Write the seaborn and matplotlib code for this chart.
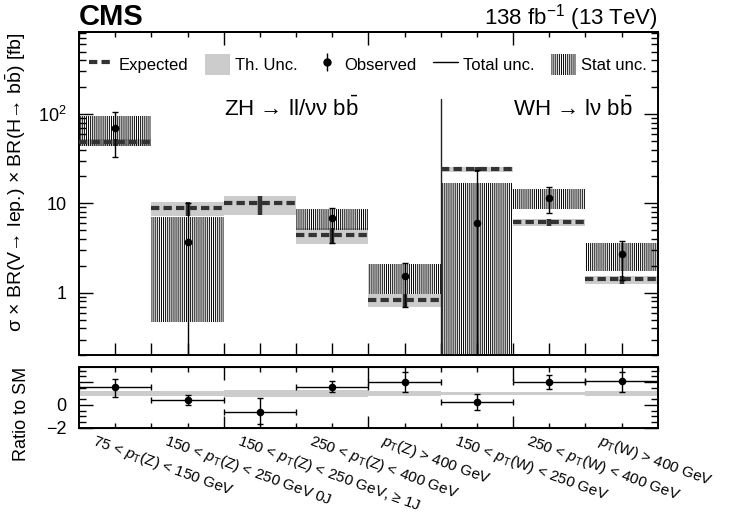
import numpy as np
import matplotlib
matplotlib.use('Agg')
import matplotlib.pyplot as plt
import matplotlib.transforms as mtransforms
from matplotlib.lines import Line2D
from matplotlib.patches import Patch
from matplotlib.legend_handler import HandlerTuple
from matplotlib.ticker import MultipleLocator, LogLocator, FixedLocator, NullFormatter
import seaborn as sns

# bins (categories)
bin_labels = [
    r'75 < $p_{\rm T}$(Z) < 150 GeV',
    r'150 < $p_{\rm T}$(Z) < 250 GeV 0J',
    r'150 < $p_{\rm T}$(Z) < 250 GeV, ≥ 1J',
    r'250 < $p_{\rm T}$(Z) < 400 GeV',
    r'$p_{\rm T}$(Z) > 400 GeV',
    r'150 < $p_{\rm T}$(W) < 250 GeV',
    r'250 < $p_{\rm T}$(W) < 400 GeV',
    r'$p_{\rm T}$(W) > 400 GeV',
]

# expected cross sections [fb] and theory band
expected = [48.7, 8.9, 10.0, 4.43, 0.83, 24.1, 6.14, 1.41]
th_lo = [44.0, 7.3, 7.5, 3.51, 0.70, 22.5, 5.6, 1.27]
th_hi = [53.0, 10.4, 12.2, 5.34, 0.97, 25.7, 6.7, 1.54]

# observed cross sections [fb] (bin 3 negative -> not shown on log scale)
observed = [69.0, 3.67, np.nan, 6.81, 1.54, 5.99, 11.6, 2.71]
tot_lo = [33.0, 0.05, np.nan, 3.57, 0.70, 0.05, 7.9, 1.39]
tot_hi = [106.0, 10.2, np.nan, 8.8, 2.17, 23.7, 15.1, 3.79]
stat_lo = [44.0, 0.47, np.nan, 5.04, 0.96, 0.05, 8.6, 1.76]
stat_hi = [96.0, 7.1, np.nan, 8.6, 2.08, 17.1, 14.4, 3.57]

# ratio to SM
ratio = [1.53, 0.44, -0.59, 1.61, 2.0, 0.29, 2.05, 2.11]
ratio_lo = [0.73, 0.0, -1.67, 1.12, 1.17, -0.44, 1.41, 1.17]
ratio_hi = [2.29, 0.88, 0.59, 2.14, 2.88, 0.94, 2.64, 2.93]
ratio_th = [0.25, 0.25, 0.3, 0.3, 0.25, 0.15, 0.1, 0.22]

sns.set_style('ticks')
plt.rcParams['font.family'] = ['Liberation Sans', 'DejaVu Sans']
plt.rcParams['mathtext.fontset'] = 'custom'
plt.rcParams['mathtext.rm'] = 'Liberation Sans'
plt.rcParams['mathtext.it'] = 'Liberation Sans:italic'
plt.rcParams['mathtext.bf'] = 'Liberation Sans:bold'
plt.rcParams['hatch.linewidth'] = 0.7
plt.rcParams['hatch.color'] = 'black'
for key in ['text.color', 'axes.labelcolor', 'xtick.color', 'ytick.color', 'axes.edgecolor']:
    plt.rcParams[key] = 'black'

n = len(bin_labels)
centers = np.arange(n) + 0.5
expected = np.array(expected)
observed = np.array(observed)
ok = ~np.isnan(observed)
th_lo, th_hi = np.array(th_lo), np.array(th_hi)
tot_lo, tot_hi = np.array(tot_lo), np.array(tot_hi)
stat_lo, stat_hi = np.array(stat_lo), np.array(stat_hi)
ratio, ratio_lo, ratio_hi, ratio_th = map(np.array, (ratio, ratio_lo, ratio_hi, ratio_th))

W, H = 729, 515
fig = plt.figure(figsize=(W / 100, H / 100), dpi=100)
ax = fig.add_axes([79 / W, 1 - 355.3 / H, 578.7 / W, 323 / H])
rax = fig.add_axes([79 / W, 1 - 427.7 / H, 578.7 / W, 60.4 / H])

dark = '#333333'
grey = '#cccccc'

# --- main panel ---
ax.bar(centers, th_hi - th_lo, bottom=th_lo, width=1.0, color=grey, linewidth=0, zorder=1)
ax.bar(centers[ok], (stat_hi - stat_lo)[ok], bottom=stat_lo[ok], width=1.0,
       facecolor='none', edgecolor='black', linewidth=0, hatch='|' * 8, zorder=2)
ax.vlines(centers, th_lo, th_hi, colors=dark, linewidth=3.2, zorder=3)
ax.hlines(expected, centers - 0.5, centers + 0.5, colors=dark, linewidth=3,
          linestyles=(0, (2, 1)), zorder=3)
ax.errorbar(centers[ok], observed[ok],
            yerr=[(observed - tot_lo)[ok], (tot_hi - observed)[ok]],
            fmt='none', ecolor='black', elinewidth=1, capsize=2.5, capthick=1, zorder=4)
sns.scatterplot(x=centers[ok], y=observed[ok], color='black', s=30, edgecolor='black',
                linewidth=0, ax=ax, zorder=5)
ax.plot([5, 5], [0.1, 147], color='#222222', linewidth=1, zorder=2)

ax.set_yscale('log')
ax.set_xlim(0, n)
ax.set_ylim(0.2, 820)
ax.set_xticks(np.arange(0.5, n, 0.5))
ax.set_xticklabels([])
ax.tick_params(axis='x', which='major', direction='in', length=8.6, width=1, top=False)
ax.yaxis.set_major_locator(FixedLocator([1, 10, 100]))
ax.set_yticklabels(['1', '10', r'10$^{2}$'])
ax.yaxis.set_minor_locator(LogLocator(base=10, subs=np.arange(2, 10)))
ax.yaxis.set_minor_formatter(NullFormatter())
ax.tick_params(axis='y', which='major', direction='in', length=10, width=1,
               left=True, right=True, labelsize=13, pad=9)
ax.tick_params(axis='y', which='minor', direction='in', length=5, width=1,
               left=True, right=True)
top = ax.secondary_xaxis('top')
top.set_xticks([2, 4, 6])
top.set_xticklabels([])
top.xaxis.set_minor_locator(MultipleLocator(0.5))
top.tick_params(which='major', direction='in', length=9, width=1)
top.tick_params(which='minor', direction='in', length=3.6, width=1)
for s in ax.spines.values():
    s.set_linewidth(1.4)
top.spines['top'].set_linewidth(1.4)

ax.set_ylabel('σ × BR(V→ lep.) × BR(H→ b$\\bar{\\rm b}$) [fb]', loc='top', fontsize=14)
ax.yaxis.set_label_coords(-0.088, 1.0)

ax.text(2.0, 114, 'ZH → ll/νν b$\\bar{\\rm b}$', fontsize=16, ha='left', va='center')
ax.text(6.0, 114, 'WH → lν b$\\bar{\\rm b}$', fontsize=16, ha='left', va='center')

handles = [
    Line2D([], [], color=dark, linewidth=3, linestyle=(0, (2, 1))),
    Patch(facecolor=grey, edgecolor='none'),
    (Line2D([], [], marker='|', markersize=13, color='black', linestyle='none', markeredgewidth=1),
     Line2D([], [], marker='o', markersize=5, color='black', linestyle='none')),
    Line2D([], [], color='black', linewidth=1),
    Patch(facecolor='none', edgecolor='black', linewidth=0, hatch='|' * 8),
]
labels = ['Expected', 'Th. Unc.', 'Observed', 'Total unc.', 'Stat unc.']
ax.legend(handles, labels, ncol=5, loc='center left', bbox_to_anchor=(0.005, 0.9),
          frameon=False, fontsize=12, handlelength=1.5, handleheight=1.5,
          handletextpad=0.3, columnspacing=1.0, borderaxespad=0,
          handler_map={tuple: HandlerTuple(ndivide=1)})

fig.text(79 / W, 1 - 17 / H, 'CMS', fontsize=21, fontweight='bold', ha='left', va='center')
fig.text(658 / W, 1 - 18 / H, r'138 fb$^{-1}$ (13 TeV)', fontsize=16, ha='right', va='center')

# --- ratio panel ---
rax.bar(centers, 2 * ratio_th, bottom=1 - ratio_th, width=1.0, color=grey, linewidth=0, zorder=1)
rax.errorbar(centers, ratio, xerr=0.5, yerr=[ratio - ratio_lo, ratio_hi - ratio],
             fmt='none', ecolor='black', elinewidth=1, capsize=2, capthick=1, zorder=3)
sns.scatterplot(x=centers, y=ratio, color='black', s=30, edgecolor='black', linewidth=0,
                ax=rax, zorder=4)
rax.set_xlim(0, n)
rax.set_ylim(-2, 3.3)
rax.set_yticks([-2, 0, 2])
rax.set_yticklabels(['\u22122', '0', ''])
rax.yaxis.set_minor_locator(MultipleLocator(0.5))
rax.tick_params(axis='y', which='major', direction='in', length=10, width=1,
                left=True, right=True, labelsize=13, pad=9)
rax.tick_params(axis='y', which='minor', direction='in', length=5, width=1,
                left=True, right=True)
rax.set_xticks(centers)
rax.set_xticklabels(bin_labels, rotation=-20, ha='left', va='top',
                    rotation_mode='anchor', fontsize=11)
rax.xaxis.set_minor_locator(FixedLocator([1, 3, 5, 7]))
rax.tick_params(axis='x', which='both', direction='in', length=3.6, width=1,
                top=False, pad=3)
shift = mtransforms.ScaledTranslation(-0.19, 0, fig.dpi_scale_trans)
for lab in rax.get_xticklabels():
    lab.set_transform(lab.get_transform() + shift)
rtop = rax.secondary_xaxis('top')
rtop.set_xticks([2, 4, 6])
rtop.set_xticklabels([])
rtop.xaxis.set_minor_locator(MultipleLocator(0.5))
rtop.tick_params(which='major', direction='in', length=9, width=1)
rtop.tick_params(which='minor', direction='in', length=3.6, width=1)
rbot = rax.secondary_xaxis('bottom')
rbot.set_xticks([2, 4, 6])
rbot.set_xticklabels([])
rbot.tick_params(which='major', direction='in', length=9, width=1)
for s in rax.spines.values():
    s.set_linewidth(1.4)
rax.set_ylabel('Ratio to SM', loc='top', fontsize=13)
rax.yaxis.set_label_coords(-0.085, 1.0)

fig.savefig('out.png', dpi=100)
